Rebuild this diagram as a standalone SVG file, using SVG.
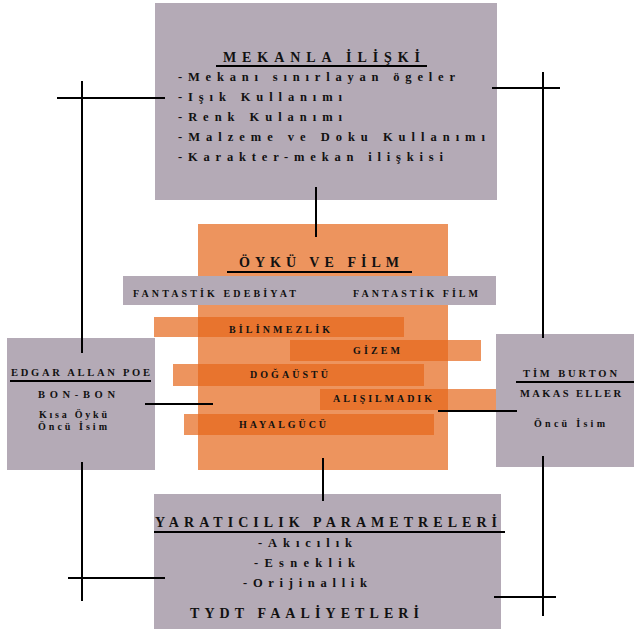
<svg xmlns="http://www.w3.org/2000/svg" width="634" height="634" viewBox="0 0 634 634">
<style>
.box{fill:#B4AAB6}
.t{font-family:"Liberation Serif","DejaVu Serif",serif;font-weight:bold;fill:#111}
.h{font-size:14px}
.i{font-size:12.5px}
.s{font-size:10.5px}
.xs{font-size:10px}
.ln{stroke:#000;stroke-width:2;fill:none}
.ul{stroke:#000;stroke-width:1.8}
.bar{fill:#E5671A;fill-opacity:0.7}
</style>
<rect width="634" height="634" fill="#fff"/>
<g id="mekanla">
<rect class="box" x="155" y="3" width="342" height="197"/>
<text class="t h" x="223" y="62" textLength="197" lengthAdjust="spacing">MEKANLA İLİŞKİ</text>
<line class="ul" x1="216" y1="66" x2="427" y2="66"/>
<text class="t i" x="178" y="81" textLength="277" lengthAdjust="spacing">-Mekanı sınırlayan ögeler</text>
<text class="t i" x="178" y="101" textLength="164" lengthAdjust="spacing">-Işık Kullanımı</text>
<text class="t i" x="178" y="121" textLength="164" lengthAdjust="spacing">-Renk Kulanımı</text>
<text class="t i" x="178" y="141" textLength="307" lengthAdjust="spacing">-Malzeme ve Doku Kullanımı</text>
<text class="t i" x="178" y="161" textLength="265" lengthAdjust="spacing">-Karakter-mekan ilişkisi</text>
</g>
<g id="oyku">
<rect x="198" y="224" width="250" height="246" fill="#E5671A" fill-opacity="0.7"/>
<text class="t h" x="239" y="267" textLength="160" lengthAdjust="spacing">ÖYKÜ VE FİLM</text>
<line class="ul" x1="227" y1="272" x2="412" y2="272"/>
<rect class="box" x="123" y="276" width="373" height="29"/>
<text class="t xs" x="133" y="297" textLength="163" lengthAdjust="spacing">FANTASTİK EDEBİYAT</text>
<text class="t xs" x="353" y="297" textLength="125" lengthAdjust="spacing">FANTASTİK FİLM</text>
<rect class="bar" x="154" y="317" width="250" height="20"/>
<text class="t xs" x="229" y="333" textLength="101" lengthAdjust="spacing">BİLİNMEZLİK</text>
<rect class="bar" x="290" y="340" width="191" height="21"/>
<text class="t xs" x="353" y="354" textLength="47" lengthAdjust="spacing">GİZEM</text>
<rect class="bar" x="173" y="364" width="251" height="22"/>
<text class="t xs" x="250" y="378" textLength="78" lengthAdjust="spacing">DOĞAÜSTÜ</text>
<rect class="bar" x="320" y="389" width="176" height="21"/>
<text class="t xs" x="333" y="402" textLength="99" lengthAdjust="spacing">ALIŞILMADIK</text>
<rect class="bar" x="184" y="414" width="250" height="21"/>
<text class="t xs" x="239" y="428" textLength="87" lengthAdjust="spacing">HAYALGÜCÜ</text>
</g>
<g id="poe">
<rect class="box" x="7" y="338" width="148" height="132"/>
<text class="t s" x="11" y="376" textLength="139" lengthAdjust="spacing">EDGAR ALLAN POE</text>
<line class="ul" x1="10" y1="381" x2="151" y2="381"/>
<text class="t s" x="38" y="398" textLength="77" lengthAdjust="spacing">BON-BON</text>
<text class="t xs" x="39" y="418" textLength="68" lengthAdjust="spacing">Kısa Öykü</text>
<text class="t xs" x="38" y="430" textLength="69" lengthAdjust="spacing">Öncü İsim</text>
</g>
<g id="burton">
<rect class="box" x="496" y="334" width="138" height="133"/>
<text class="t s" x="523" y="377" textLength="94" lengthAdjust="spacing">TİM BURTON</text>
<line class="ul" x1="516" y1="382" x2="634" y2="382"/>
<text class="t s" x="520" y="397" textLength="101" lengthAdjust="spacing">MAKAS ELLER</text>
<text class="t xs" x="534" y="427" textLength="71" lengthAdjust="spacing">Öncü İsim</text>
</g>
<g id="yaraticilik">
<rect class="box" x="154" y="494" width="347" height="135"/>
<text class="t h" x="155" y="527" textLength="342" lengthAdjust="spacing">YARATICILIK PARAMETRELERİ</text>
<line class="ul" x1="154" y1="532" x2="505" y2="532"/>
<text class="t i" x="258" y="547" textLength="94" lengthAdjust="spacing">-Akıcılık</text>
<text class="t i" x="254" y="567" textLength="101" lengthAdjust="spacing">-Esneklik</text>
<text class="t i" x="243" y="587" textLength="124" lengthAdjust="spacing">-Orijinallik</text>
<text class="t h" x="190" y="618" textLength="229" lengthAdjust="spacing">TYDT FAALİYETLERİ</text>
</g>
<g id="connectors">
<line class="ln" x1="316" y1="187" x2="316" y2="237"/>
<line class="ln" x1="57" y1="98" x2="165" y2="98"/>
<line class="ln" x1="82" y1="81" x2="82" y2="353"/>
<line class="ln" x1="492" y1="88" x2="560" y2="88"/>
<line class="ln" x1="543" y1="72" x2="543" y2="338"/>
<line class="ln" x1="145" y1="404" x2="213" y2="404"/>
<line class="ln" x1="438" y1="411" x2="517" y2="411"/>
<line class="ln" x1="82" y1="462" x2="82" y2="601"/>
<line class="ln" x1="68" y1="578" x2="165" y2="578"/>
<line class="ln" x1="543" y1="456" x2="543" y2="616"/>
<line class="ln" x1="494" y1="597" x2="556" y2="597"/>
<line class="ln" x1="323" y1="458" x2="323" y2="501"/>
</g>
</svg>
